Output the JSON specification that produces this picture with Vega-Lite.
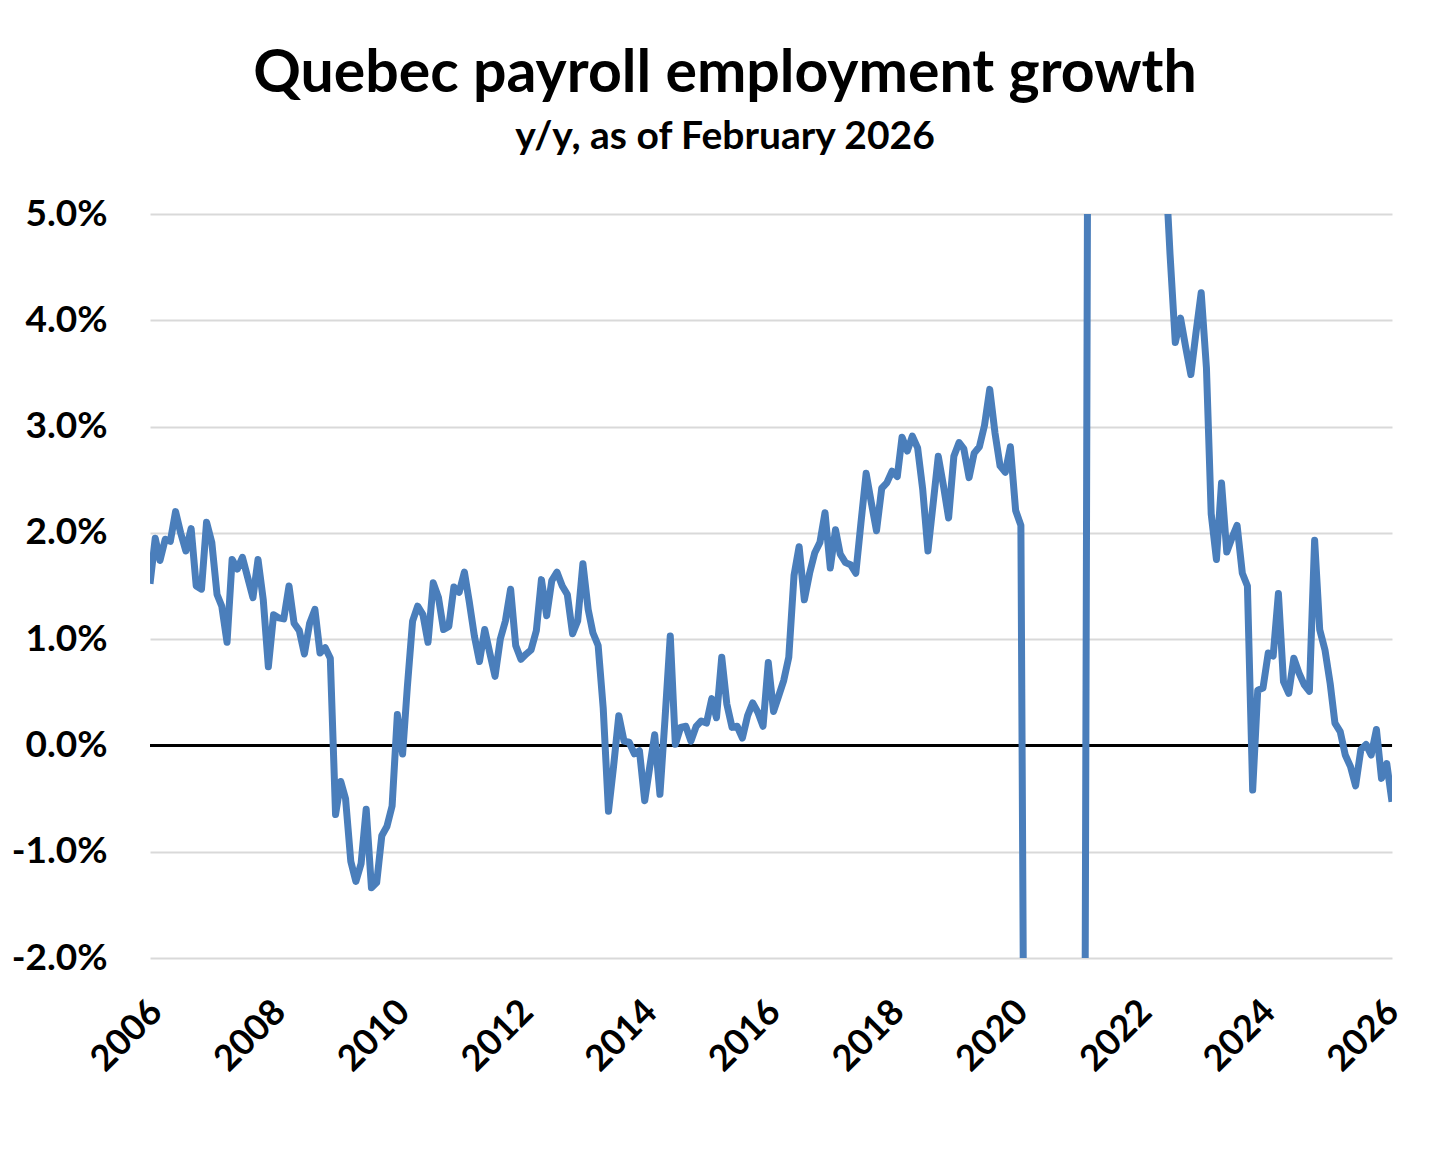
{
  "$schema": "https://vega.github.io/schema/vega-lite/v6.json",
  "description": "Quebec payroll employment growth, y/y, monthly 2006-2026.",
  "autosize": "none",
  "width": 1242,
  "height": 744,
  "padding": {"left": 150, "top": 214, "right": 64, "bottom": 191},
  "background": "white",
  "title": {
    "text": "Quebec payroll employment growth",
    "subtitle": "y/y, as of February 2026",
    "anchor": "middle",
    "dx": -46,
    "offset": 38,
    "font": "Lato",
    "fontSize": 59,
    "fontWeight": "bold",
    "color": "black",
    "subtitleFont": "Lato",
    "subtitleFontSize": 39,
    "subtitleFontWeight": "bold",
    "subtitleColor": "black",
    "subtitlePadding": 14
  },
  "data": {
    "values": [
      {"month": "2006-01-01", "growth": 1.52}, {"month": "2006-02-01", "growth": 1.95}, {"month": "2006-03-01", "growth": 1.74},
      {"month": "2006-04-01", "growth": 1.94}, {"month": "2006-05-01", "growth": 1.92}, {"month": "2006-06-01", "growth": 2.20},
      {"month": "2006-07-01", "growth": 2.00}, {"month": "2006-08-01", "growth": 1.83}, {"month": "2006-09-01", "growth": 2.04},
      {"month": "2006-10-01", "growth": 1.50}, {"month": "2006-11-01", "growth": 1.47}, {"month": "2006-12-01", "growth": 2.10},
      {"month": "2007-01-01", "growth": 1.91}, {"month": "2007-02-01", "growth": 1.42}, {"month": "2007-03-01", "growth": 1.31},
      {"month": "2007-04-01", "growth": 0.97}, {"month": "2007-05-01", "growth": 1.75}, {"month": "2007-06-01", "growth": 1.66},
      {"month": "2007-07-01", "growth": 1.77}, {"month": "2007-08-01", "growth": 1.58}, {"month": "2007-09-01", "growth": 1.39},
      {"month": "2007-10-01", "growth": 1.75}, {"month": "2007-11-01", "growth": 1.37}, {"month": "2007-12-01", "growth": 0.74},
      {"month": "2008-01-01", "growth": 1.23}, {"month": "2008-02-01", "growth": 1.20}, {"month": "2008-03-01", "growth": 1.19},
      {"month": "2008-04-01", "growth": 1.50}, {"month": "2008-05-01", "growth": 1.15}, {"month": "2008-06-01", "growth": 1.08},
      {"month": "2008-07-01", "growth": 0.86}, {"month": "2008-08-01", "growth": 1.15}, {"month": "2008-09-01", "growth": 1.28},
      {"month": "2008-10-01", "growth": 0.87}, {"month": "2008-11-01", "growth": 0.92}, {"month": "2008-12-01", "growth": 0.82},
      {"month": "2009-01-01", "growth": -0.65}, {"month": "2009-02-01", "growth": -0.34}, {"month": "2009-03-01", "growth": -0.50},
      {"month": "2009-04-01", "growth": -1.09}, {"month": "2009-05-01", "growth": -1.28}, {"month": "2009-06-01", "growth": -1.11},
      {"month": "2009-07-01", "growth": -0.60}, {"month": "2009-08-01", "growth": -1.34}, {"month": "2009-09-01", "growth": -1.29},
      {"month": "2009-10-01", "growth": -0.85}, {"month": "2009-11-01", "growth": -0.76}, {"month": "2009-12-01", "growth": -0.57},
      {"month": "2010-01-01", "growth": 0.29}, {"month": "2010-02-01", "growth": -0.08}, {"month": "2010-03-01", "growth": 0.55},
      {"month": "2010-04-01", "growth": 1.17}, {"month": "2010-05-01", "growth": 1.31}, {"month": "2010-06-01", "growth": 1.23},
      {"month": "2010-07-01", "growth": 0.97}, {"month": "2010-08-01", "growth": 1.53}, {"month": "2010-09-01", "growth": 1.39},
      {"month": "2010-10-01", "growth": 1.09}, {"month": "2010-11-01", "growth": 1.12}, {"month": "2010-12-01", "growth": 1.49},
      {"month": "2011-01-01", "growth": 1.44}, {"month": "2011-02-01", "growth": 1.63}, {"month": "2011-03-01", "growth": 1.36},
      {"month": "2011-04-01", "growth": 1.03}, {"month": "2011-05-01", "growth": 0.79}, {"month": "2011-06-01", "growth": 1.09},
      {"month": "2011-07-01", "growth": 0.87}, {"month": "2011-08-01", "growth": 0.65}, {"month": "2011-09-01", "growth": 1.00},
      {"month": "2011-10-01", "growth": 1.17}, {"month": "2011-11-01", "growth": 1.47}, {"month": "2011-12-01", "growth": 0.94},
      {"month": "2012-01-01", "growth": 0.81}, {"month": "2012-02-01", "growth": 0.86}, {"month": "2012-03-01", "growth": 0.90},
      {"month": "2012-04-01", "growth": 1.08}, {"month": "2012-05-01", "growth": 1.56}, {"month": "2012-06-01", "growth": 1.22},
      {"month": "2012-07-01", "growth": 1.55}, {"month": "2012-08-01", "growth": 1.63}, {"month": "2012-09-01", "growth": 1.50},
      {"month": "2012-10-01", "growth": 1.42}, {"month": "2012-11-01", "growth": 1.05}, {"month": "2012-12-01", "growth": 1.17},
      {"month": "2013-01-01", "growth": 1.71}, {"month": "2013-02-01", "growth": 1.28}, {"month": "2013-03-01", "growth": 1.06},
      {"month": "2013-04-01", "growth": 0.94}, {"month": "2013-05-01", "growth": 0.35}, {"month": "2013-06-01", "growth": -0.62},
      {"month": "2013-07-01", "growth": -0.20}, {"month": "2013-08-01", "growth": 0.28}, {"month": "2013-09-01", "growth": 0.04},
      {"month": "2013-10-01", "growth": 0.03}, {"month": "2013-11-01", "growth": -0.08}, {"month": "2013-12-01", "growth": -0.05},
      {"month": "2014-01-01", "growth": -0.52}, {"month": "2014-02-01", "growth": -0.19}, {"month": "2014-03-01", "growth": 0.10},
      {"month": "2014-04-01", "growth": -0.46}, {"month": "2014-05-01", "growth": 0.25}, {"month": "2014-06-01", "growth": 1.03},
      {"month": "2014-07-01", "growth": 0.01}, {"month": "2014-08-01", "growth": 0.17}, {"month": "2014-09-01", "growth": 0.18},
      {"month": "2014-10-01", "growth": 0.04}, {"month": "2014-11-01", "growth": 0.18}, {"month": "2014-12-01", "growth": 0.23},
      {"month": "2015-01-01", "growth": 0.21}, {"month": "2015-02-01", "growth": 0.44}, {"month": "2015-03-01", "growth": 0.26},
      {"month": "2015-04-01", "growth": 0.83}, {"month": "2015-05-01", "growth": 0.39}, {"month": "2015-06-01", "growth": 0.17},
      {"month": "2015-07-01", "growth": 0.18}, {"month": "2015-08-01", "growth": 0.07}, {"month": "2015-09-01", "growth": 0.28},
      {"month": "2015-10-01", "growth": 0.40}, {"month": "2015-11-01", "growth": 0.31}, {"month": "2015-12-01", "growth": 0.18},
      {"month": "2016-01-01", "growth": 0.78}, {"month": "2016-02-01", "growth": 0.32}, {"month": "2016-03-01", "growth": 0.46},
      {"month": "2016-04-01", "growth": 0.61}, {"month": "2016-05-01", "growth": 0.83}, {"month": "2016-06-01", "growth": 1.60},
      {"month": "2016-07-01", "growth": 1.87}, {"month": "2016-08-01", "growth": 1.37}, {"month": "2016-09-01", "growth": 1.62},
      {"month": "2016-10-01", "growth": 1.81}, {"month": "2016-11-01", "growth": 1.91}, {"month": "2016-12-01", "growth": 2.19},
      {"month": "2017-01-01", "growth": 1.67}, {"month": "2017-02-01", "growth": 2.03}, {"month": "2017-03-01", "growth": 1.80},
      {"month": "2017-04-01", "growth": 1.72}, {"month": "2017-05-01", "growth": 1.70}, {"month": "2017-06-01", "growth": 1.62},
      {"month": "2017-07-01", "growth": 2.09}, {"month": "2017-08-01", "growth": 2.56}, {"month": "2017-09-01", "growth": 2.28},
      {"month": "2017-10-01", "growth": 2.02}, {"month": "2017-11-01", "growth": 2.42}, {"month": "2017-12-01", "growth": 2.47},
      {"month": "2018-01-01", "growth": 2.58}, {"month": "2018-02-01", "growth": 2.53}, {"month": "2018-03-01", "growth": 2.90},
      {"month": "2018-04-01", "growth": 2.77}, {"month": "2018-05-01", "growth": 2.91}, {"month": "2018-06-01", "growth": 2.80},
      {"month": "2018-07-01", "growth": 2.41}, {"month": "2018-08-01", "growth": 1.83}, {"month": "2018-09-01", "growth": 2.28},
      {"month": "2018-10-01", "growth": 2.72}, {"month": "2018-11-01", "growth": 2.44}, {"month": "2018-12-01", "growth": 2.14},
      {"month": "2019-01-01", "growth": 2.72}, {"month": "2019-02-01", "growth": 2.85}, {"month": "2019-03-01", "growth": 2.79},
      {"month": "2019-04-01", "growth": 2.52}, {"month": "2019-05-01", "growth": 2.75}, {"month": "2019-06-01", "growth": 2.81},
      {"month": "2019-07-01", "growth": 3.01}, {"month": "2019-08-01", "growth": 3.35}, {"month": "2019-09-01", "growth": 2.94},
      {"month": "2019-10-01", "growth": 2.63}, {"month": "2019-11-01", "growth": 2.57}, {"month": "2019-12-01", "growth": 2.81},
      {"month": "2020-01-01", "growth": 2.21}, {"month": "2020-02-01", "growth": 2.07}, {"month": "2020-03-01", "growth": -6.5},
      {"month": "2020-04-01", "growth": -19.0}, {"month": "2020-05-01", "growth": -15.0}, {"month": "2020-06-01", "growth": -11.0},
      {"month": "2020-07-01", "growth": -8.0}, {"month": "2020-08-01", "growth": -7.0}, {"month": "2020-09-01", "growth": -6.5},
      {"month": "2020-10-01", "growth": -6.0}, {"month": "2020-11-01", "growth": -6.0}, {"month": "2020-12-01", "growth": -6.5},
      {"month": "2021-01-01", "growth": -7.5}, {"month": "2021-02-01", "growth": -9.5}, {"month": "2021-03-01", "growth": 5.5},
      {"month": "2021-04-01", "growth": 20.0}, {"month": "2021-05-01", "growth": 16.0}, {"month": "2021-06-01", "growth": 12.0},
      {"month": "2021-07-01", "growth": 9.0}, {"month": "2021-08-01", "growth": 8.0}, {"month": "2021-09-01", "growth": 7.5},
      {"month": "2021-10-01", "growth": 7.0}, {"month": "2021-11-01", "growth": 7.0}, {"month": "2021-12-01", "growth": 7.0},
      {"month": "2022-01-01", "growth": 6.5}, {"month": "2022-02-01", "growth": 6.5}, {"month": "2022-03-01", "growth": 6.0},
      {"month": "2022-04-01", "growth": 6.0}, {"month": "2022-05-01", "growth": 5.8}, {"month": "2022-06-01", "growth": 5.54},
      {"month": "2022-07-01", "growth": 4.62}, {"month": "2022-08-01", "growth": 3.79}, {"month": "2022-09-01", "growth": 4.02},
      {"month": "2022-10-01", "growth": 3.75}, {"month": "2022-11-01", "growth": 3.49}, {"month": "2022-12-01", "growth": 3.88},
      {"month": "2023-01-01", "growth": 4.26}, {"month": "2023-02-01", "growth": 3.55}, {"month": "2023-03-01", "growth": 2.18},
      {"month": "2023-04-01", "growth": 1.75}, {"month": "2023-05-01", "growth": 2.47}, {"month": "2023-06-01", "growth": 1.82},
      {"month": "2023-07-01", "growth": 1.95}, {"month": "2023-08-01", "growth": 2.07}, {"month": "2023-09-01", "growth": 1.62},
      {"month": "2023-10-01", "growth": 1.50}, {"month": "2023-11-01", "growth": -0.42}, {"month": "2023-12-01", "growth": 0.52},
      {"month": "2024-01-01", "growth": 0.54}, {"month": "2024-02-01", "growth": 0.87}, {"month": "2024-03-01", "growth": 0.84},
      {"month": "2024-04-01", "growth": 1.43}, {"month": "2024-05-01", "growth": 0.60}, {"month": "2024-06-01", "growth": 0.49},
      {"month": "2024-07-01", "growth": 0.82}, {"month": "2024-08-01", "growth": 0.68}, {"month": "2024-09-01", "growth": 0.57},
      {"month": "2024-10-01", "growth": 0.51}, {"month": "2024-11-01", "growth": 1.93}, {"month": "2024-12-01", "growth": 1.09},
      {"month": "2025-01-01", "growth": 0.90}, {"month": "2025-02-01", "growth": 0.58}, {"month": "2025-03-01", "growth": 0.21},
      {"month": "2025-04-01", "growth": 0.13}, {"month": "2025-05-01", "growth": -0.09}, {"month": "2025-06-01", "growth": -0.20},
      {"month": "2025-07-01", "growth": -0.38}, {"month": "2025-08-01", "growth": -0.04}, {"month": "2025-09-01", "growth": 0.01},
      {"month": "2025-10-01", "growth": -0.09}, {"month": "2025-11-01", "growth": 0.15}, {"month": "2025-12-01", "growth": -0.31},
      {"month": "2026-01-01", "growth": -0.17}, {"month": "2026-02-01", "growth": -0.53}
    ]
  },
  "encoding": {
    "x": {
      "field": "month",
      "type": "temporal",
      "scale": {"type": "utc", "domain": ["2006-01-01", "2026-02-01"]},
      "axis": {
        "title": null,
        "values": [
          {"year": 2006, "utc": true}, {"year": 2008, "utc": true}, {"year": 2010, "utc": true},
          {"year": 2012, "utc": true}, {"year": 2014, "utc": true}, {"year": 2016, "utc": true},
          {"year": 2018, "utc": true}, {"year": 2020, "utc": true}, {"year": 2022, "utc": true},
          {"year": 2024, "utc": true}, {"year": 2026, "utc": true}
        ],
        "format": "%Y",
        "formatType": "utc",
        "labelAngle": -45,
        "labelPadding": 36,
        "labelOffset": -6,
        "labelFont": "Lato",
        "labelFontSize": 36,
        "labelFontWeight": "bold",
        "labelColor": "black",
        "labelOverlap": false,
        "labelFlush": false,
        "domain": false,
        "ticks": false,
        "grid": false
      }
    },
    "y": {
      "field": "growth",
      "type": "quantitative",
      "scale": {"domain": [-2, 5], "nice": false, "zero": false},
      "axis": {
        "title": null,
        "values": [-2, -1, 0, 1, 2, 3, 4, 5],
        "labelExpr": "(datum.value < 0 ? '-' : '') + format(abs(datum.value), '.1f') + '%'",
        "labelPadding": 43,
        "labelFont": "Lato",
        "labelFontSize": 37,
        "labelFontWeight": "bold",
        "labelColor": "black",
        "domain": false,
        "ticks": false,
        "grid": true,
        "gridColor": "#d9d9d9",
        "gridWidth": 2
      }
    }
  },
  "layer": [
    {
      "mark": {"type": "rule", "color": "black", "strokeWidth": 2},
      "encoding": {"y": {"datum": 0}, "x": {"value": 0}, "x2": {"value": 1242}}
    },
    {
      "mark": {"type": "line", "color": "#4a7ebb", "strokeWidth": 7, "clip": true, "strokeJoin": "round"}
    }
  ],
  "config": {
    "view": {"stroke": null}
  }
}
